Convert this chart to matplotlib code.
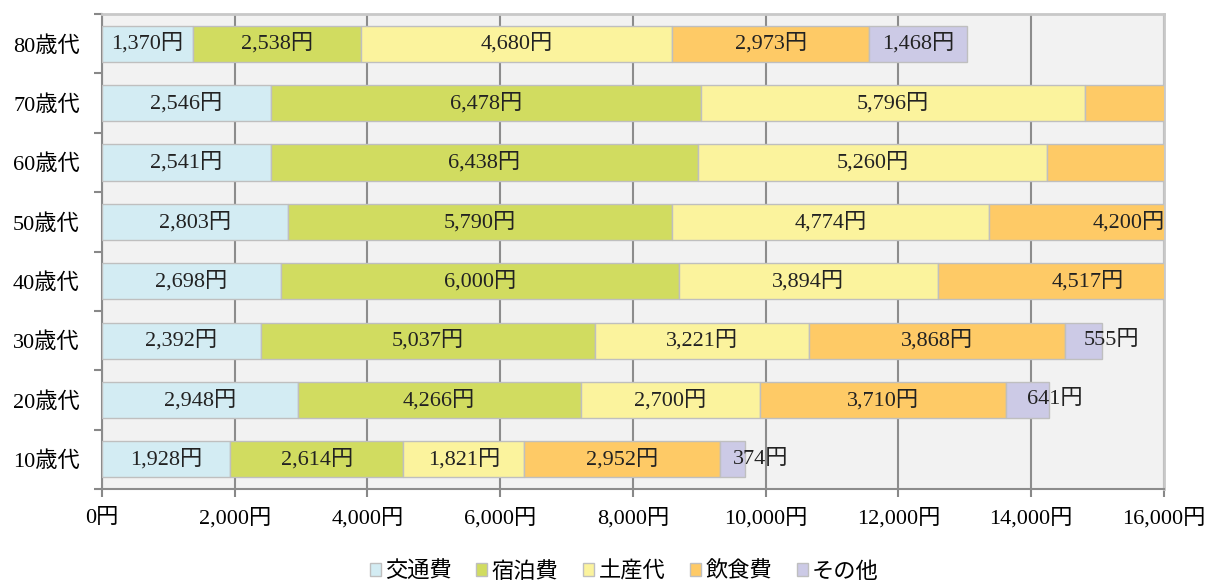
import numpy as np
import matplotlib
matplotlib.use('Agg')
import matplotlib.pyplot as plt

plt.rcParams['font.family'] = ['Liberation Serif', 'Noto Sans CJK JP', 'DejaVu Sans']

ages = ['10歳代', '20歳代', '30歳代', '40歳代', '50歳代', '60歳代', '70歳代', '80歳代']
series = ['交通費', '宿泊費', '土産代', '飲食費', 'その他']
colors = ['#D3ECF3', '#D1DC60', '#FBF39D', '#FECA66', '#CCCAE6']

transport = [1928, 2948, 2392, 2698, 2803, 2541, 2546, 1370]
lodging = [2614, 4266, 5037, 6000, 5790, 6438, 6478, 2538]
souvenir = [1821, 2700, 3221, 3894, 4774, 5260, 5796, 4680]
food = [2952, 3710, 3868, 4517, 4200, 4100, 3700, 2973]   # 60/70 food is cut off, estimated
other = [374, 641, 555, 800, 800, 900, 1000, 1468]        # 40-70 cut off, estimated

xticks = [0, 2000, 4000, 6000, 8000, 10000, 12000, 14000, 16000]
xmax = 16000

data = [transport, lodging, souvenir, food, other]

fig = plt.figure(figsize=(12.12, 5.85), dpi=100)
ax = fig.add_axes([0.0842, 0.164, 0.876, 0.812])
ax.set_facecolor('#F2F2F2')

y = np.arange(len(ages))
left = np.zeros(len(ages))
for name, vals, c in zip(series, data, colors):
    vals = np.array(vals, dtype=float)
    ax.barh(y, vals, left=left, height=0.61, color=c, edgecolor='#BFBFBF',
            linewidth=1, label=name, zorder=3)
    for i, v in enumerate(vals):
        center = left[i] + v / 2
        if center > xmax:
            continue
        txt = f'{int(v):,}円'
        # narrow segments: label starts at segment centre (as in the original)
        ha = 'left' if v < 1000 else 'center'
        ax.text(center, y[i], txt, ha=ha, va='center', fontsize=16,
                color='#222222', zorder=4, clip_on=False)
    left += vals

ax.set_xlim(0, xmax)
ax.set_ylim(-0.5, len(ages) - 0.5)
ax.set_xticks(xticks)
ax.set_xticklabels([f'{t:,}円' for t in xticks], fontsize=16)
ax.set_yticks(y)
ax.set_yticklabels(ages, fontsize=16)
ax.set_yticks(np.arange(-0.5, len(ages), 1), minor=True)
ax.tick_params(axis='y', which='major', length=0, pad=16)
ax.tick_params(axis='y', which='minor', length=6, color='#888888', width=1.5)
ax.tick_params(axis='x', length=6, color='#888888', width=1.5, pad=8)

ax.grid(axis='x', color='#8C8C8C', linewidth=1.5, zorder=1)
for s in ['left', 'bottom']:
    ax.spines[s].set_color('#8C8C8C')
    ax.spines[s].set_linewidth(1.5)
for s in ['top', 'right']:
    ax.spines[s].set_color('#C8C8C8')
    ax.spines[s].set_linewidth(2)

handles, labels = ax.get_legend_handles_labels()
fig.legend(handles, labels, loc='center', bbox_to_anchor=(0.515, 1 - 572 / 585),
           ncol=5, frameon=False, fontsize=16, handlelength=0.5, handleheight=0.5,
           handletextpad=0.2, columnspacing=1.1, borderpad=0)

fig.savefig('out.png', dpi=100)
